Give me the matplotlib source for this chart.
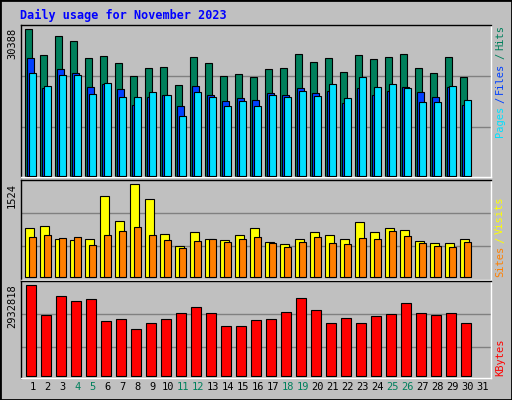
import matplotlib
matplotlib.use("Agg")
import matplotlib.pyplot as plt
import numpy as np

days = list(range(1, 32))
weekend = [4, 5, 11, 12, 18, 19, 25, 26]
hits_max = 30388
hits_px = [88,166,109,124,175,169,190,229,205,202,256,172,190,229,223,232,208,205,163,187,175,217,166,178,172,163,205,220,172,232]
files_px = [175,265,208,220,262,253,268,316,292,286,319,259,286,304,295,301,280,286,265,280,274,310,265,286,274,262,277,292,262,316]
pages_px = [220,259,226,226,283,250,292,292,277,286,349,277,292,319,304,319,286,292,274,289,253,295,232,262,253,265,307,307,259,301]
hits = [round((530 - p) / 442 * hits_max) for p in hits_px]
files = [round((530 - p) / 442 * hits_max) for p in files_px]
pages = [round((530 - p) / 442 * hits_max) for p in pages_px]
visits_max = 1524
visits_px = [160,154,193,196,193,64,139,28,73,178,214,172,193,196,181,160,202,208,193,172,181,193,142,172,160,166,199,205,205,193]
sites_px = [187,181,190,187,211,181,169,157,181,196,220,199,193,202,193,187,205,217,202,187,205,208,190,193,169,184,205,214,217,202]
visits = [round((305 - p) / 277 * visits_max) for p in visits_px]
sites = [round((305 - p) / 277 * visits_max) for p in sites_px]
kb_max = 2932818
kb_px = [328,418,361,376,370,436,430,460,442,430,412,394,412,451,451,433,430,409,367,403,442,427,442,421,415,382,412,418,412,442]
kbytes = [round((602 - p) / 274 * kb_max) for p in kb_px]

W, H = 512, 400
fig = plt.figure(figsize=(W/100, H/100), dpi=100, facecolor="#C0C0C0")
mono = "DejaVu Sans Mono"
fig.patches.append(plt.Rectangle((0, 0), 1, 1, transform=fig.transFigure, fill=False, ec="black", lw=2))

def mkax(top, bot):
    ax = fig.add_axes([20.7/W, 1-bot/H, (491-20.7)/W, (bot-top)/H])
    ax.set_facecolor("#C0C0C0")
    for s in ax.spines.values():
        s.set_color("black"); s.set_linewidth(1)
    ax.spines["bottom"].set_color("white"); ax.spines["right"].set_color("white")
    ax.set_xlim(0.19, 31.54)
    ax.set_xticks([]); ax.set_yticks([])
    return ax

x = np.array(days[:30])
def bars(ax, vals, off0, off1, color, z):
    ax.bar(x - 0.5 + off0, vals, width=off1-off0, align="edge", color=color, ec="black", lw=0.8, zorder=z)

ax1 = mkax(25, 177)
ax1.set_ylim(-2/442*hits_max, 455/442*hits_max)
for f in (0.335, 0.68):
    ax1.axhline(f*hits_max, color="#808080", lw=1, zorder=1)
bars(ax1, hits, 0.0, 0.47, "#00805C", 2)
bars(ax1, files, 0.13, 0.6, "#0040FF", 3)
bars(ax1, pages, 0.27, 0.73, "#00E0FF", 4)
ax1.text(-0.008, 0.98, str(hits_max), transform=ax1.transAxes, rotation=90, ha="right", va="top", fontsize=7.5, family=mono)

ax2 = mkax(180, 280)
ax2.set_ylim(-10/277*visits_max, 290/277*visits_max)
for f in (0.33, 0.686):
    ax2.axhline(f*visits_max, color="#808080", lw=1, zorder=1)
bars(ax2, visits, 0.0, 0.56, "#FFFF00", 2)
bars(ax2, sites, 0.27, 0.73, "#FF8000", 3)
ax2.text(-0.008, 0.97, str(visits_max), transform=ax2.transAxes, rotation=90, ha="right", va="top", fontsize=7.5, family=mono)

ax3 = mkax(281, 378)
ax3.set_ylim(-6/274*kb_max, 285/274*kb_max)
for f in (0.32, 0.68):
    ax3.axhline(f*kb_max, color="#808080", lw=1, zorder=1)
bars(ax3, kbytes, 0.07, 0.73, "#FF0000", 2)
ax3.text(-0.008, 0.97, str(kb_max), transform=ax3.transAxes, rotation=90, ha="right", va="top", fontsize=7.5, family=mono)

for d in days:
    ax3.text(d, -0.04, str(d), transform=ax3.get_xaxis_transform(), ha="center", va="top",
             fontsize=7.5, family=mono, color="#00805C" if d in weekend else "black")

fig.text(20/W, 1-15/H, "Daily usage for November 2023", color="#0000FF", fontsize=8.5, family=mono,
         fontweight="bold", va="center", ha="left")

renderer = fig.canvas.get_renderer()
def rlabel(parts, ybot):
    y = ybot
    for t, c in parts:
        tx = fig.text(500/W, 1-y/H, t.strip(), rotation=90, color=c, fontsize=7.5, family=mono, ha="center", va="bottom")
        h = tx.get_window_extent(renderer).height
        y -= h + 3
rlabel([("Pages", "#00E0FF"), ("/", "#0040FF"), ("Files", "#0040FF"), ("/", "#00805C"), ("Hits", "#00805C")], 137)
rlabel([("Sites", "#FF8000"), ("/", "#FFFF00"), ("Visits", "#FFFF00")], 277)
rlabel([("KBytes", "#FF0000")], 376)

fig.savefig("out.png", dpi=100, facecolor=fig.get_facecolor())
